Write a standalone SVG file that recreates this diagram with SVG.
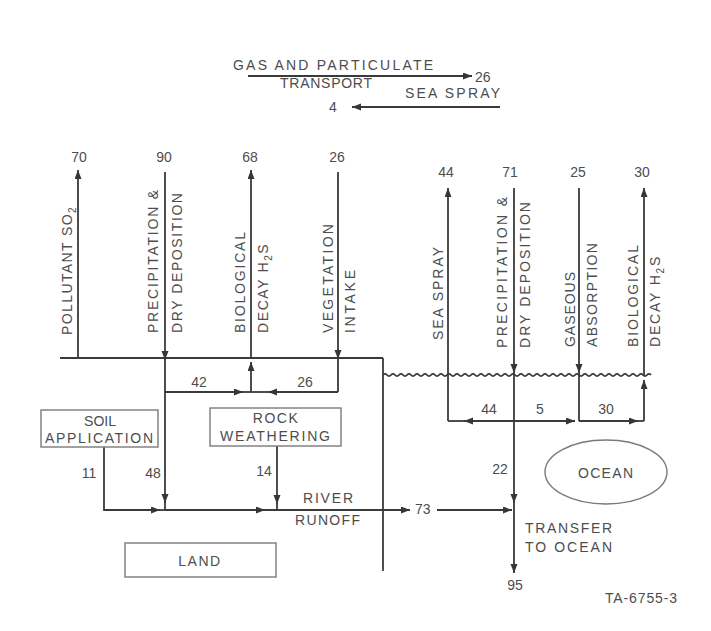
<svg xmlns="http://www.w3.org/2000/svg" width="711" height="631" viewBox="0 0 711 631">
<defs>
<marker id="ah" markerUnits="userSpaceOnUse" markerWidth="10" markerHeight="8" refX="9" refY="3.5" orient="auto">
<path d="M0,0 L9,3.5 L0,7 z" fill="#363636"/>
</marker>
<style>
.t{font-family:"Liberation Sans",Arial,Helvetica,sans-serif;font-size:14px;fill:#4d4d4d}
.c{text-anchor:middle}
.ln{stroke:#3a3a3a;stroke-width:1.8;fill:none}
.a{stroke:#3a3a3a;stroke-width:1.8;fill:none;marker-end:url(#ah)}
.box{fill:none;stroke:#7a7a7a;stroke-width:1.4}
.sub{font-size:10px}
</style>
</defs>
<rect width="711" height="631" fill="#ffffff"/>

<g id="connectors">
<!-- top transport arrows -->
<line class="a" x1="248" y1="76" x2="472" y2="76"/>
<line class="a" x1="500" y1="107" x2="352" y2="107"/>
<!-- ground and boundary -->
<line class="ln" x1="60" y1="358" x2="383" y2="358"/>
<line class="ln" x1="383" y1="358" x2="383" y2="571"/>
<!-- ocean surface -->
<path class="ln" stroke-width="1.4" d="M383 375 q2 -2.2 4 0 t4 0 4 0 4 0 4 0 4 0 4 0 4 0 4 0 4 0 4 0 4 0 4 0 4 0 4 0 4 0 4 0 4 0 4 0 4 0 4 0 4 0 4 0 4 0 4 0 4 0 4 0 4 0 4 0 4 0 4 0 4 0 4 0 4 0 4 0 4 0 4 0 4 0 4 0 4 0 4 0 4 0 4 0 4 0 4 0 4 0 4 0 4 0 4 0 4 0 4 0 4 0 4 0 4 0 4 0 4 0 4 0 4 0 4 0 4 0 4 0 4 0 4 0 4 0 4 0 4 0 4 0"/>
<!-- pollutant SO2 -->
<line class="a" x1="78" y1="358" x2="78" y2="170"/>
<!-- precipitation land -->
<line class="a" x1="165" y1="172" x2="165" y2="360"/>
<line class="a" x1="165" y1="358" x2="165" y2="503"/>
<line class="ln" x1="165" y1="502" x2="165" y2="510"/>
<line class="a" x1="165" y1="392" x2="243" y2="392"/>
<line class="ln" x1="242" y1="392" x2="251" y2="392"/>
<!-- biological decay land -->
<line class="a" x1="251" y1="392" x2="251" y2="362"/>
<line class="a" x1="251" y1="358" x2="251" y2="170"/>
<!-- vegetation intake -->
<line class="a" x1="338" y1="172" x2="338" y2="359"/>
<line class="ln" x1="338" y1="358" x2="338" y2="392"/>
<line class="a" x1="338" y1="392" x2="268" y2="392"/>
<line class="ln" x1="269" y1="392" x2="251" y2="392"/>
<!-- soil application -->
<polyline class="ln" points="104,447 104,510 152,510"/>
<line class="a" x1="150" y1="510" x2="160" y2="510"/>
<line class="ln" x1="159" y1="510" x2="165" y2="510"/>
<!-- rock weathering -->
<line class="a" x1="277" y1="446" x2="277" y2="504"/>
<line class="ln" x1="277" y1="503" x2="277" y2="510"/>
<!-- river runoff -->
<line class="a" x1="165" y1="510" x2="265" y2="510"/>
<line class="a" x1="264" y1="510" x2="410" y2="510"/>
<line class="a" x1="437" y1="510" x2="512" y2="510"/>
<!-- ocean side -->
<line class="a" x1="448" y1="421" x2="448" y2="188"/>
<line class="a" x1="514" y1="188" x2="514" y2="373"/>
<line class="a" x1="514" y1="372" x2="514" y2="503"/>
<line class="a" x1="514" y1="502" x2="514" y2="573"/>
<line class="a" x1="579" y1="188" x2="579" y2="373"/>
<line class="ln" x1="579" y1="372" x2="579" y2="421"/>
<line class="a" x1="644" y1="421" x2="644" y2="380"/>
<line class="a" x1="644" y1="376" x2="644" y2="188"/>
<line class="a" x1="514" y1="421" x2="464" y2="421"/>
<line class="ln" x1="465" y1="421" x2="448" y2="421"/>
<line class="a" x1="514" y1="421" x2="575" y2="421"/>
<line class="a" x1="579" y1="421" x2="638" y2="421"/>
<line class="ln" x1="637" y1="421" x2="644" y2="421"/>
</g>

<g id="transport-labels">
<text class="t" x="233" y="70" textLength="200" lengthAdjust="spacing">GAS AND PARTICULATE</text>
<text class="t" x="475" y="82">26</text>
<text class="t" x="280" y="88" textLength="92" lengthAdjust="spacing">TRANSPORT</text>
<text class="t" x="405" y="98" textLength="95" lengthAdjust="spacing">SEA SPRAY</text>
<text class="t" x="329" y="112">4</text>
</g>

<g id="land-fluxes">
<text class="t c" x="79" y="162">70</text>
<text class="t c" x="164" y="162">90</text>
<text class="t c" x="250" y="162">68</text>
<text class="t c" x="337" y="162">26</text>
<text class="t" transform="translate(72,335) rotate(-90)" letter-spacing="1.4">POLLUTANT SO<tspan class="sub" dy="4">2</tspan></text>
<text class="t" transform="translate(158,333) rotate(-90)" textLength="143" lengthAdjust="spacing">PRECIPITATION &amp;</text>
<text class="t" transform="translate(182,333) rotate(-90)" textLength="140" lengthAdjust="spacing">DRY DEPOSITION</text>
<text class="t" transform="translate(245,333) rotate(-90)" textLength="101" lengthAdjust="spacing">BIOLOGICAL</text>
<text class="t" transform="translate(268,333) rotate(-90)" letter-spacing="1.6">DECAY H<tspan class="sub" dy="4">2</tspan><tspan dy="-4">S</tspan></text>
<text class="t" transform="translate(333,333) rotate(-90)" textLength="109" lengthAdjust="spacing">VEGETATION</text>
<text class="t" transform="translate(355,333) rotate(-90)" textLength="63" lengthAdjust="spacing">INTAKE</text>
<text class="t c" x="199" y="387">42</text>
<text class="t c" x="305" y="387">26</text>
<text class="t c" x="89" y="478">11</text>
<text class="t c" x="153" y="478">48</text>
<text class="t c" x="264" y="476">14</text>
<text class="t" x="303" y="503" textLength="50" lengthAdjust="spacing">RIVER</text>
<text class="t" x="295" y="525" textLength="65" lengthAdjust="spacing">RUNOFF</text>
<text class="t" x="415" y="514">73</text>
</g>

<g id="ocean-fluxes">
<text class="t c" x="446" y="177">44</text>
<text class="t c" x="510" y="177">71</text>
<text class="t c" x="578" y="177">25</text>
<text class="t c" x="642" y="177">30</text>
<text class="t" transform="translate(443,340) rotate(-90)" textLength="93" lengthAdjust="spacing">SEA SPRAY</text>
<text class="t" transform="translate(507,348) rotate(-90)" textLength="151" lengthAdjust="spacing">PRECIPITATION &amp;</text>
<text class="t" transform="translate(530,348) rotate(-90)" textLength="146" lengthAdjust="spacing">DRY DEPOSITION</text>
<text class="t" transform="translate(575,347) rotate(-90)" textLength="75" lengthAdjust="spacing">GASEOUS</text>
<text class="t" transform="translate(597,347) rotate(-90)" textLength="104" lengthAdjust="spacing">ABSORPTION</text>
<text class="t" transform="translate(638,347) rotate(-90)" textLength="102" lengthAdjust="spacing">BIOLOGICAL</text>
<text class="t" transform="translate(660,347) rotate(-90)" letter-spacing="1.8">DECAY H<tspan class="sub" dy="4">2</tspan><tspan dy="-4">S</tspan></text>
<text class="t c" x="489" y="414">44</text>
<text class="t c" x="540" y="414">5</text>
<text class="t c" x="606" y="414">30</text>
<text class="t c" x="500" y="474">22</text>
<text class="t" x="525" y="533" textLength="87" lengthAdjust="spacing">TRANSFER</text>
<text class="t" x="525" y="552" textLength="87" lengthAdjust="spacing">TO OCEAN</text>
<text class="t c" x="515" y="590">95</text>
</g>

<g id="soil-application">
<rect class="box" x="41" y="410" width="117" height="37"/>
<text class="t c" x="100" y="426">SOIL</text>
<text class="t" x="45" y="443" textLength="108" lengthAdjust="spacing">APPLICATION</text>
</g>

<g id="rock-weathering">
<rect class="box" x="210" y="408" width="131" height="38"/>
<text class="t c" x="276" y="423" letter-spacing="1.5">ROCK</text>
<text class="t" x="220" y="441" textLength="110" lengthAdjust="spacing">WEATHERING</text>
</g>

<g id="land">
<rect class="box" x="125" y="543" width="151" height="34"/>
<text class="t c" x="200" y="566" letter-spacing="1.5">LAND</text>
</g>

<g id="ocean">
<ellipse class="box" cx="606" cy="472" rx="61" ry="32"/>
<text class="t" x="578" y="478" textLength="55" lengthAdjust="spacing">OCEAN</text>
</g>

<text class="t" x="605" y="603" font-size="11" fill="#8a8a8a" textLength="72" lengthAdjust="spacing">TA-6755-3</text>
</svg>
